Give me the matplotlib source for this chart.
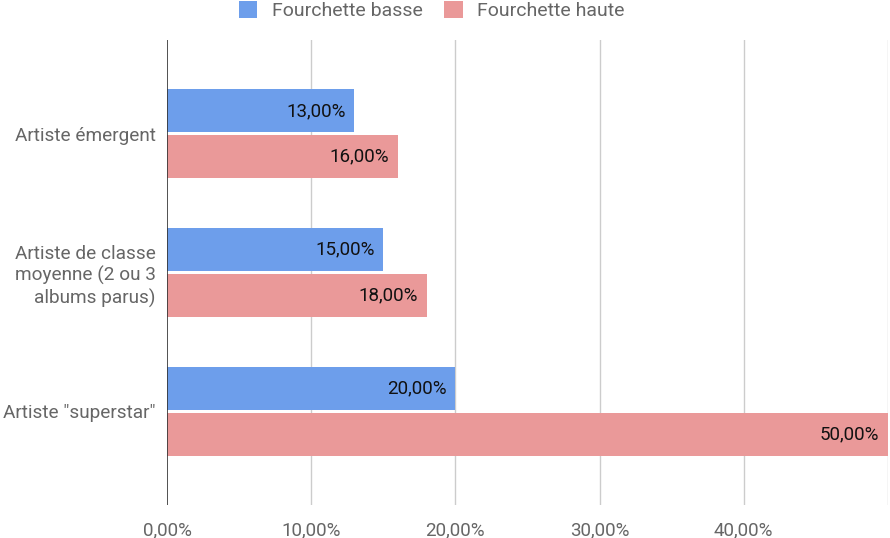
import numpy as np
import matplotlib.pyplot as plt

plt.rcParams['font.family'] = ['Roboto', 'DejaVu Sans']

categories = ['Artiste émergent', 'Artiste de classe\nmoyenne (2 ou 3\nalbums parus)', 'Artiste "superstar"']
basse = [13, 15, 20]
haute = [16, 18, 50]
series_names = ['Fourchette basse', 'Fourchette haute']
colors = ['#6d9eeb', '#ea9999']
ticks = [0, 10, 20, 30, 40]


def fmt(v):
    return f'{v:.2f}'.replace('.', ',') + '%'


fig = plt.figure(figsize=(8.9, 5.38), dpi=100)
ax = fig.add_axes([167 / 890, 1 - 505 / 538, (888 - 167) / 890, 465 / 538])

y = np.arange(len(categories))
h = 0.31
off = 0.165
b1 = ax.barh(y - off, basse, height=h, color=colors[0], label=series_names[0], zorder=3)
b2 = ax.barh(y + off, haute, height=h, color=colors[1], label=series_names[1], zorder=3)

for bars, vals in [(b1, basse), (b2, haute)]:
    for bar, v in zip(bars, vals):
        ax.text(v - 0.6, bar.get_y() + bar.get_height() / 2, fmt(v),
                ha='right', va='center', fontsize=13.5, color='#111111', zorder=4)

ax.set_xlim(0, 50)
ax.set_ylim(2.676, -0.676)
ax.set_yticks(y)
ax.set_yticklabels(categories, fontsize=13.7, color='#666666', linespacing=1.22)
ax.set_xticks(ticks)
ax.set_xticklabels([fmt(t) for t in ticks], fontsize=13.5, color='#666666')
ax.tick_params(length=0, pad=8)
ax.tick_params(axis='x', pad=12)

for t in [10, 20, 30, 40, 50]:
    ax.axvline(t, color='#cccccc', lw=1, zorder=1)
ax.axvline(0, color='#333333', lw=1.2, zorder=5)
for s in ax.spines.values():
    s.set_visible(False)

fig.legend(handles=[b1, b2], loc='upper center', bbox_to_anchor=(0.485, 1.03), ncol=2,
           frameon=False, fontsize=14, labelcolor='#666666', handlelength=0.95,
           handleheight=0.95, columnspacing=1.1, handletextpad=0.75)

fig.savefig('out.png', dpi=100)
